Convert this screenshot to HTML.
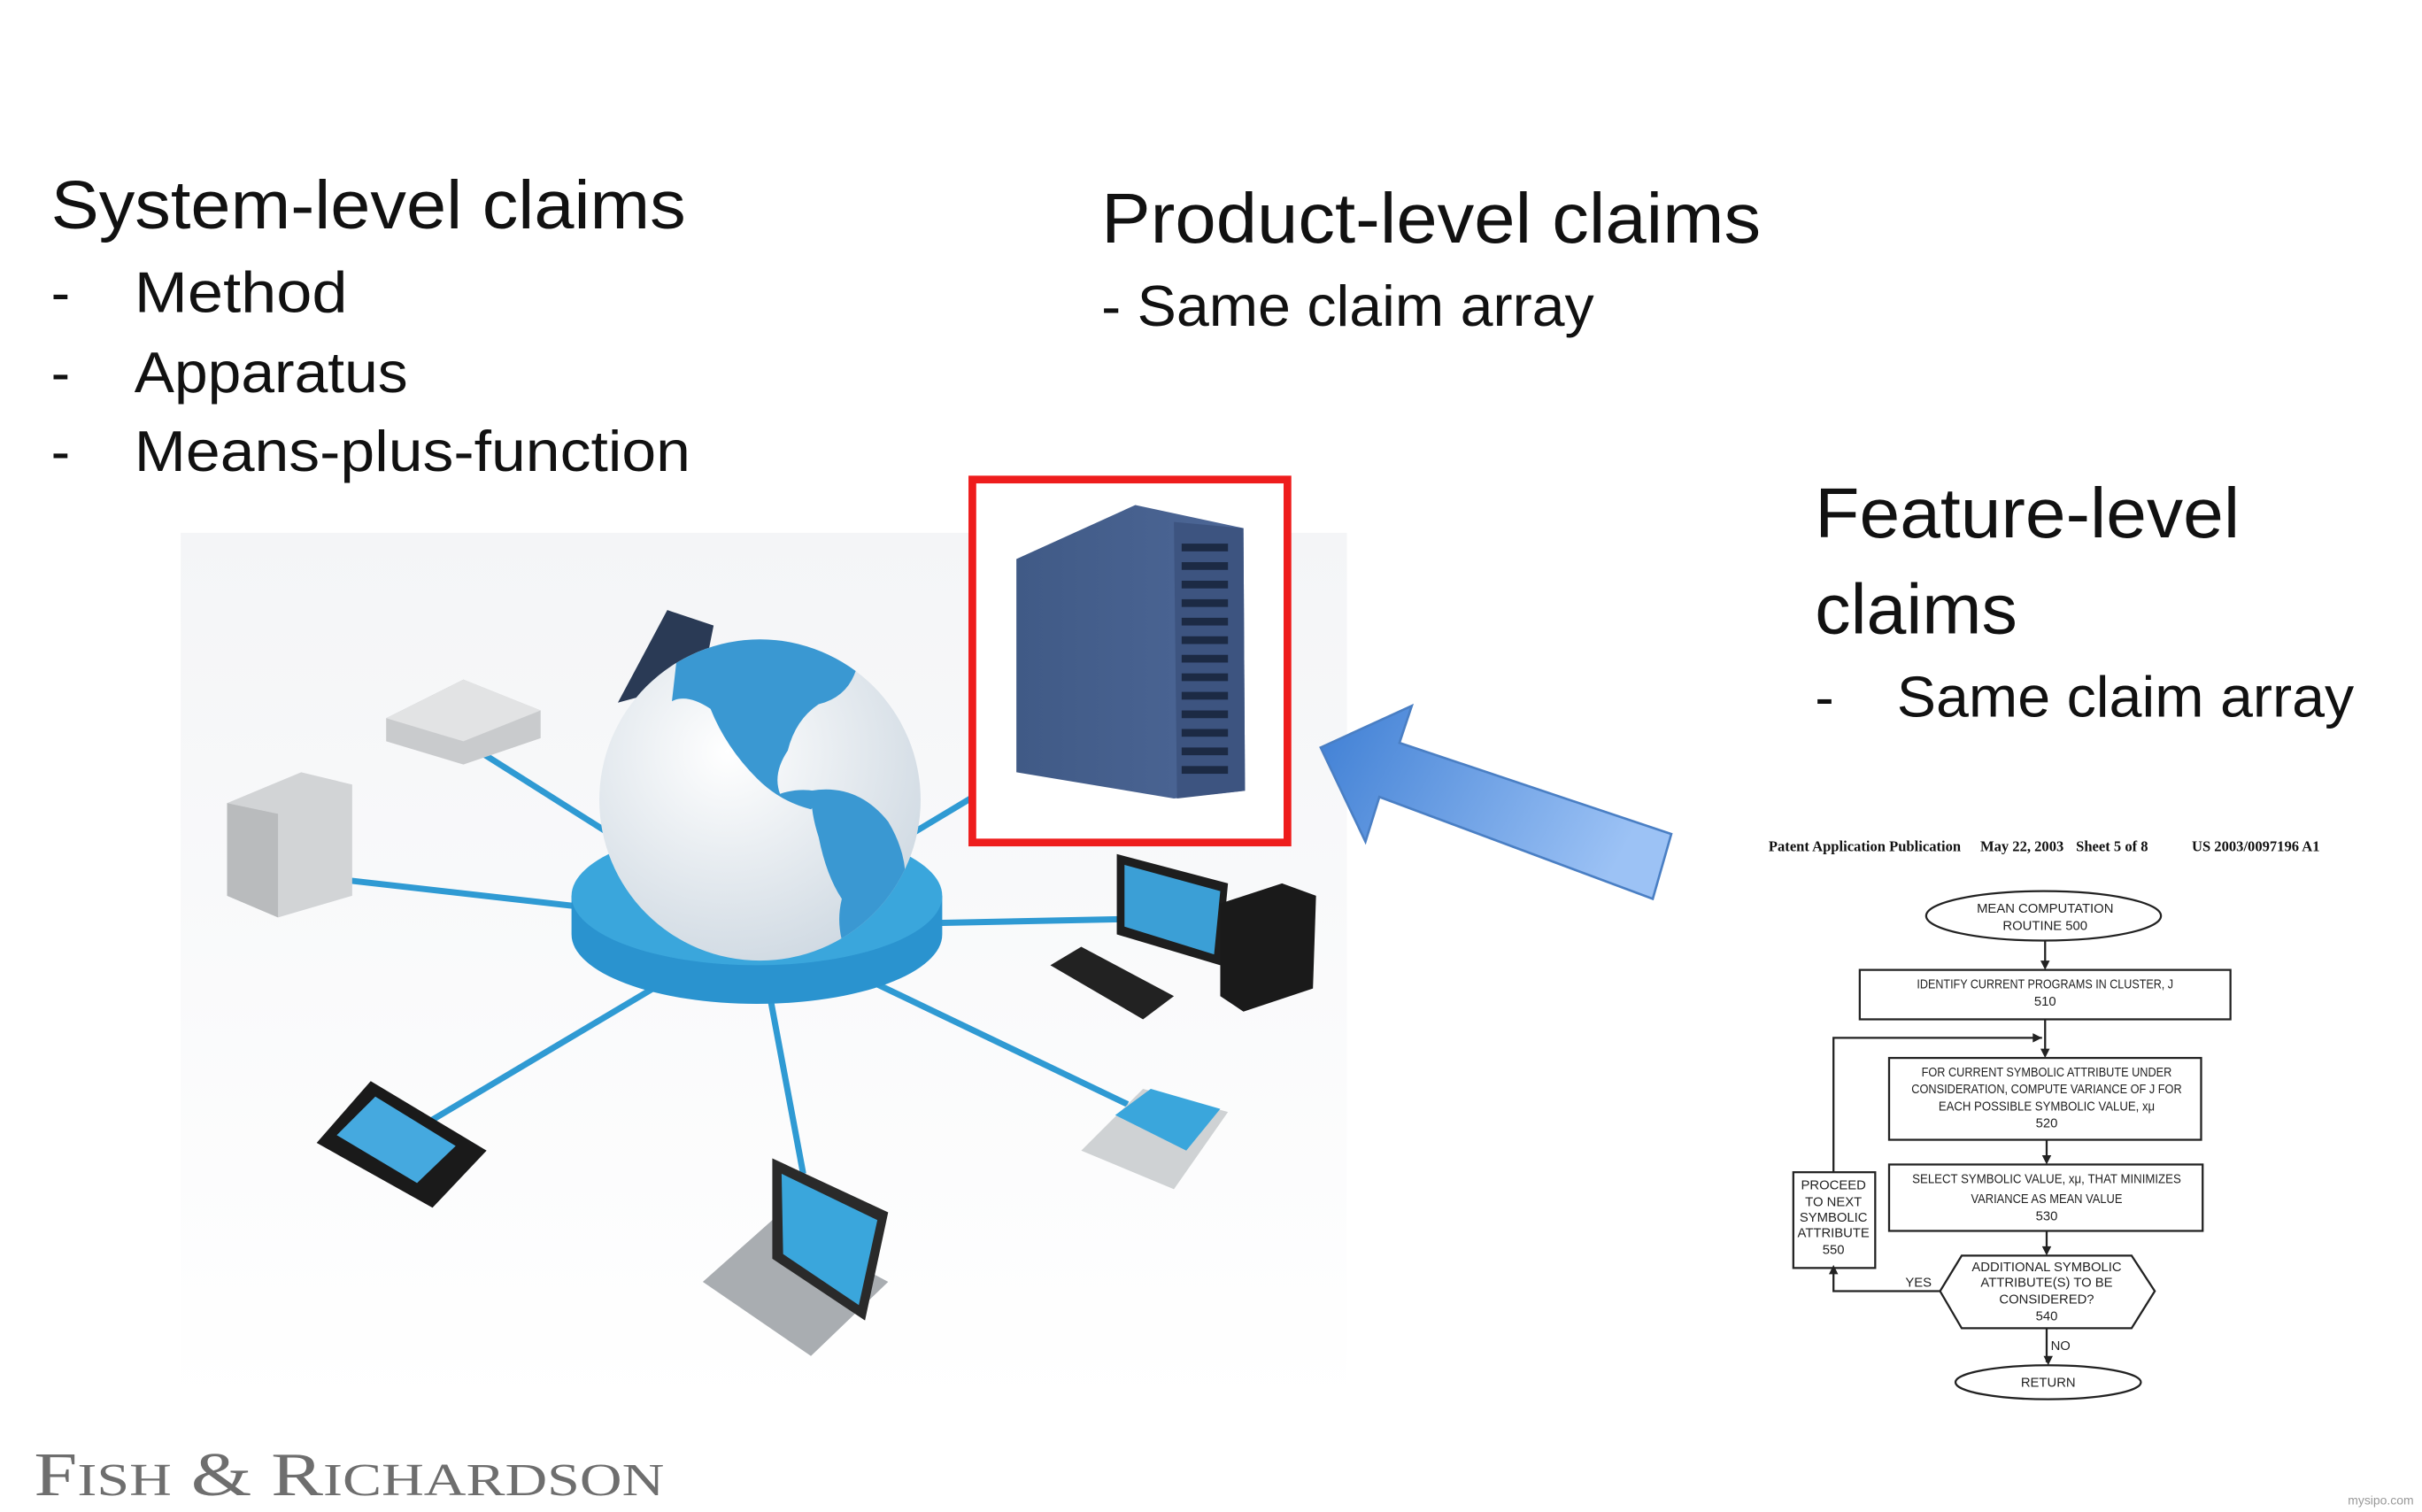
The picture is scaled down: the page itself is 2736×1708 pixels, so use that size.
<!DOCTYPE html>
<html><head><meta charset="utf-8"><style>
html,body{margin:0;padding:0;background:#fff;}
svg{display:block;}
</style></head><body>
<svg width="2736" height="1708" viewBox="0 0 1568 979" preserveAspectRatio="none" xmlns="http://www.w3.org/2000/svg">
<defs>
<linearGradient id="bg" x1="0" y1="0" x2="0" y2="1"><stop offset="0" stop-color="#f4f5f7"/><stop offset="1" stop-color="#ffffff"/></linearGradient>
<linearGradient id="arr" x1="0" y1="0" x2="1" y2="0.3"><stop offset="0" stop-color="#3f7fd4"/><stop offset="1" stop-color="#9cc2f5"/></linearGradient>
<radialGradient id="globe" cx="0.4" cy="0.35" r="0.7"><stop offset="0" stop-color="#ffffff"/><stop offset="1" stop-color="#cfd9e2"/></radialGradient>
<linearGradient id="srv" x1="0" y1="0" x2="1" y2="0"><stop offset="0" stop-color="#405a86"/><stop offset="1" stop-color="#4d6797"/></linearGradient>
<clipPath id="gc"><circle cx="492" cy="518" r="104"/></clipPath>
</defs>
<g font-family="'Liberation Sans', sans-serif" fill="#111">
<text x="33" y="148" font-size="44" textLength="411" lengthAdjust="spacingAndGlyphs">System-level claims</text>
<text x="33" y="202" font-size="37">-</text><text x="87" y="202" font-size="37" textLength="138" lengthAdjust="spacingAndGlyphs">Method</text>
<text x="33" y="254" font-size="37">-</text><text x="87" y="254" font-size="37" textLength="177" lengthAdjust="spacingAndGlyphs">Apparatus</text>
<text x="33" y="305" font-size="37">-</text><text x="87" y="305" font-size="37" textLength="360" lengthAdjust="spacingAndGlyphs">Means-plus-function</text>
<text x="713" y="157" font-size="46" textLength="427" lengthAdjust="spacingAndGlyphs">Product-level claims</text>
<text x="713" y="211" font-size="37" textLength="319" lengthAdjust="spacingAndGlyphs">- Same claim array</text>
<text x="1175" y="348" font-size="46" textLength="275" lengthAdjust="spacingAndGlyphs">Feature-level</text>
<text x="1175" y="410" font-size="46" textLength="131" lengthAdjust="spacingAndGlyphs">claims</text>
<text x="1175" y="464" font-size="37">-</text><text x="1228" y="464" font-size="37" textLength="296" lengthAdjust="spacingAndGlyphs">Same claim array</text>
</g>
<!-- network image -->
<rect x="117" y="345" width="755" height="567" fill="url(#bg)"/>
<g stroke="#2f9ad3" stroke-width="4">
<line x1="490" y1="600" x2="300" y2="480"/><line x1="490" y1="600" x2="225" y2="570"/>
<line x1="490" y1="600" x2="280" y2="725"/><line x1="490" y1="600" x2="520" y2="760"/>
<line x1="490" y1="600" x2="730" y2="715"/><line x1="490" y1="600" x2="735" y2="595"/>
<line x1="490" y1="600" x2="640" y2="510"/>
</g>
<polygon points="432,395 462,405 455,440 400,455" fill="#2a3a55"/>
<path d="M370 580 v25 a120 45 0 0 0 240 0 v-25 z" fill="#2a93cf"/>
<ellipse cx="490" cy="580" rx="120" ry="45" fill="#3aa6dc"/>
<circle cx="492" cy="518" r="104" fill="url(#globe)"/>
<g clip-path="url(#gc)" fill="#3a98d2">
<path d="M440 410 q30 -8 60 -4 q30 6 55 25 q-5 20 -25 25 q-15 10 -20 30 q-10 15 -5 28 q15 -5 30 0 l-10 10 q-20 -5 -35 -20 q-20 -20 -30 -45 q-15 -10 -25 -5 z"/>
<path d="M525 512 q30 -5 50 20 q15 25 10 50 q-15 25 -35 40 q-10 -20 -5 -40 q-10 -15 -15 -40 q-5 -15 -5 -30z"/>
</g>
<!-- devices -->
<polygon points="250,465 300,440 350,460 350,478 300,495 250,480" fill="#c9cbcd"/>
<polygon points="250,465 300,440 350,460 300,480" fill="#e2e3e4"/>
<polygon points="147,520 195,500 228,508 228,580 180,594 147,580" fill="#d2d4d6"/>
<polygon points="147,520 180,527 180,594 147,580" fill="#b9bbbd"/>
<polygon points="205,740 240,700 315,745 280,782" fill="#1a1a1a"/>
<polygon points="218,735 243,710 295,742 270,766" fill="#45a9df"/>
<polygon points="455,830 500,790 575,830 525,878" fill="#a9adb1"/>
<polygon points="500,750 500,815 560,855 575,785" fill="#2a2a2a"/>
<polygon points="506,760 507,812 556,845 568,790" fill="#3aa6dc"/>
<polygon points="700,745 740,705 795,720 760,770" fill="#cfd2d4"/>
<polygon points="722,722 745,705 790,718 768,745" fill="#3aa6dc"/>
<polygon points="723,553 795,572 790,625 723,605" fill="#1e1e1e"/>
<polygon points="728,560 790,577 786,618 728,600" fill="#3b9fd6"/>
<polygon points="790,585 830,572 852,580 850,640 805,655 790,645" fill="#1a1a1a"/>
<polygon points="680,625 700,613 760,645 740,660" fill="#222"/>
<!-- server red box -->
<rect x="629.5" y="310.5" width="204" height="235" fill="#fff" stroke="#ee1c1c" stroke-width="5"/>
<polygon points="658,362 735,327 805,342 806,512 760,517 658,500" fill="url(#srv)"/>
<polygon points="760,338 805,342 806,512 762,517" fill="#3d5480"/>
<g fill="#1c2a44">
<rect x="765" y="352" width="30" height="5"/><rect x="765" y="364" width="30" height="5"/><rect x="765" y="376" width="30" height="5"/><rect x="765" y="388" width="30" height="5"/><rect x="765" y="400" width="30" height="5"/><rect x="765" y="412" width="30" height="5"/><rect x="765" y="424" width="30" height="5"/><rect x="765" y="436" width="30" height="5"/><rect x="765" y="448" width="30" height="5"/><rect x="765" y="460" width="30" height="5"/><rect x="765" y="472" width="30" height="5"/><rect x="765" y="484" width="30" height="5"/><rect x="765" y="496" width="30" height="5"/>
</g>
<!-- arrow -->
<polygon points="855,484 914,457 906,481 1082,540 1070,582 893,516 884,545" fill="url(#arr)" stroke="#4a7fc4" stroke-width="1.5"/>
<!-- flowchart -->
<g font-family="'Liberation Serif', serif" font-weight="bold" font-size="9.5" fill="#111">
<text x="1145" y="551">Patent Application Publication</text>
<text x="1282" y="551">May 22, 2003</text>
<text x="1344" y="551">Sheet 5 of 8</text>
<text x="1419" y="551">US 2003/0097196 A1</text>
</g>
<g fill="none" stroke="#222" stroke-width="1.3">
<ellipse cx="1323" cy="593" rx="76" ry="16"/>
<rect x="1204" y="628" width="240" height="32"/>
<rect x="1223" y="685" width="202" height="53"/>
<rect x="1223" y="754" width="203" height="43"/>
<rect x="1161" y="759" width="53" height="62"/>
<polygon points="1256,836 1270,813 1380,813 1395,836 1380,860 1270,860"/>
<ellipse cx="1326" cy="895" rx="60" ry="11"/>
<path d="M1324 609 V626 M1324 660 V683 M1187 759 V672 H1322 M1325 738 V752 M1325 797 V811 M1325 860 V882 M1256 836 H1187 V823"/>
</g>
<g fill="#222">
<polygon points="1321,622 1327,622 1324,628"/><polygon points="1321,679 1327,679 1324,685"/><polygon points="1316,669 1322,672 1316,675"/>
<polygon points="1322,748 1328,748 1325,754"/><polygon points="1322,807 1328,807 1325,813"/><polygon points="1323,878 1329,878 1326,884"/>
<polygon points="1184,825 1190,825 1187,819"/>
</g>
<g font-family="'Liberation Sans Narrow','Liberation Sans', sans-serif" font-size="8.5" fill="#222" text-anchor="middle" lengthAdjust="spacingAndGlyphs">
<text x="1324" y="591">MEAN COMPUTATION</text><text x="1324" y="602">ROUTINE 500</text>
<text x="1324" y="640" textLength="166" lengthAdjust="spacingAndGlyphs">IDENTIFY CURRENT PROGRAMS IN CLUSTER, J</text><text x="1324" y="651">510</text>
<text x="1325" y="697" textLength="162" lengthAdjust="spacingAndGlyphs">FOR CURRENT SYMBOLIC ATTRIBUTE UNDER</text><text x="1325" y="708" textLength="175" lengthAdjust="spacingAndGlyphs">CONSIDERATION, COMPUTE VARIANCE OF J FOR</text><text x="1325" y="719" textLength="140" lengthAdjust="spacingAndGlyphs">EACH POSSIBLE SYMBOLIC VALUE, xμ</text><text x="1325" y="730">520</text>
<text x="1325" y="766" textLength="174" lengthAdjust="spacingAndGlyphs">SELECT SYMBOLIC VALUE, xμ, THAT MINIMIZES</text><text x="1325" y="779" textLength="98" lengthAdjust="spacingAndGlyphs">VARIANCE AS MEAN VALUE</text><text x="1325" y="790">530</text>
<text x="1187" y="770">PROCEED</text><text x="1187" y="781">TO NEXT</text><text x="1187" y="791">SYMBOLIC</text><text x="1187" y="801">ATTRIBUTE</text><text x="1187" y="812">550</text>
<text x="1325" y="823">ADDITIONAL SYMBOLIC</text><text x="1325" y="833">ATTRIBUTE(S) TO BE</text><text x="1325" y="844">CONSIDERED?</text><text x="1325" y="855">540</text>
<text x="1242" y="833">YES</text><text x="1334" y="874">NO</text>
<text x="1326" y="898">RETURN</text>
</g>
<!-- logo -->
<text x="22" y="968" font-family="'Liberation Serif', serif" font-size="40" fill="#6e6e6e" textLength="408" lengthAdjust="spacingAndGlyphs">F<tspan font-size="30">ISH</tspan> &amp; R<tspan font-size="30">ICHARDSON</tspan></text>
<text x="1520" y="974" font-family="'Liberation Sans', sans-serif" font-size="8" fill="#999">mysipo.com</text>
</svg>
</body></html>
